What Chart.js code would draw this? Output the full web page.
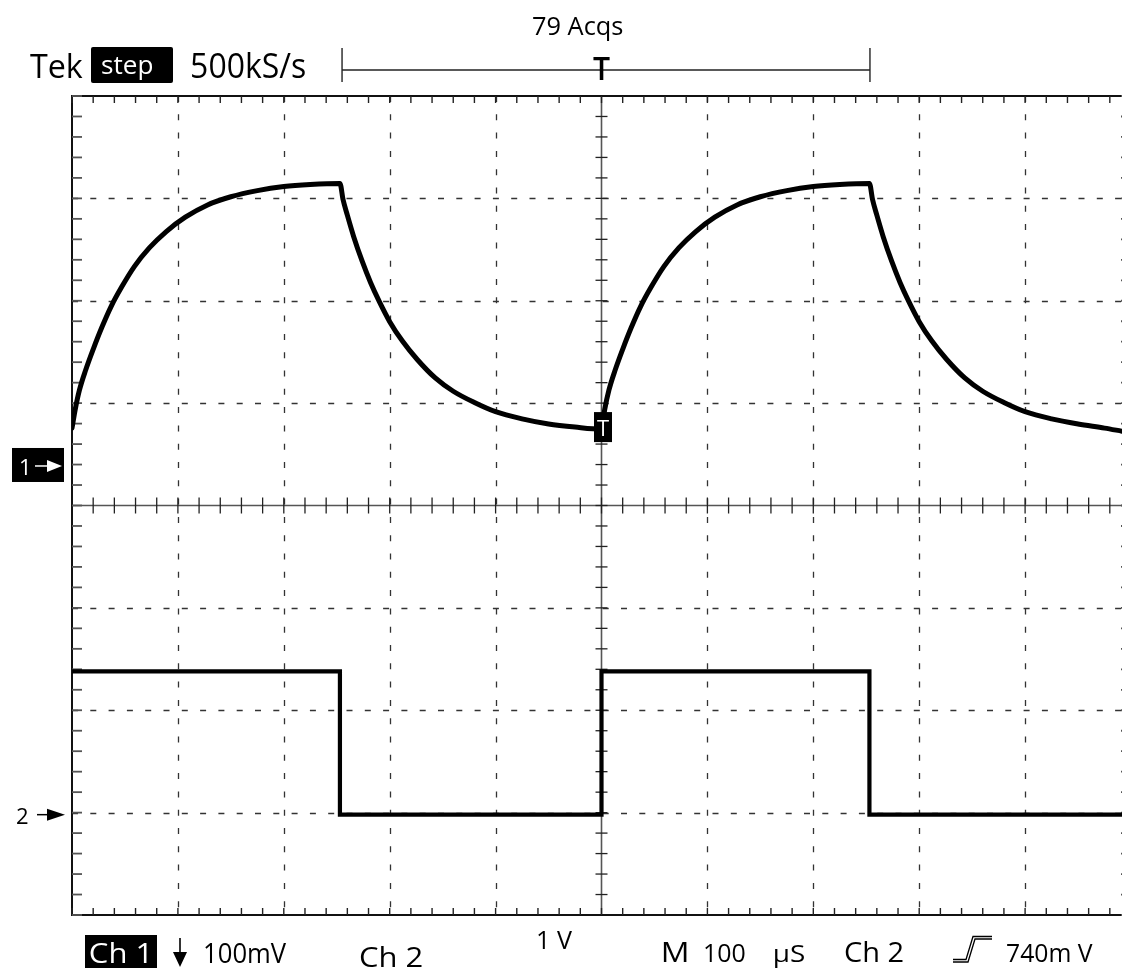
<!DOCTYPE html>
<html><head><meta charset="utf-8">
<script src="https://cdn.jsdelivr.net/npm/chart.js@4/dist/chart.umd.min.js"></script>
<style>html,body{margin:0;padding:0;background:#fff;}#wrap{width:1122px;height:968px;position:relative;}</style>
</head><body><div id="wrap"><canvas id="c" width="1122" height="968"></canvas></div>
<script>
// ---- Data (time in µs relative to trigger; Ch1 in mV above its ground; Ch2 in V) ----
const ch1TimeA  = [-500,-497,-493,-487,-480,-472,-463,-453,-441,-427,-411,-393,-372,-350,-325,-300,-275,-247,
                   -244,-240,-234,-226,-218,-210,-200,-188,-174,-157,-140,-120,-100,-75,-50,-25,0];
const ch1ValueA = [37,55,74,94,114,135,156,175,195,213,229,243,255,263,269,273,275,276,
                   260,245,224,200,179,161,141,122,104,86,73,62,53,46,41,38,36];
const ch1TimeB  = [0,3,7,13,20,28,37,47,59,73,89,107,128,150,175,200,225,253,
                   256,260,266,274,282,290,300,312,326,343,360,380,400,425,450,475,491.5];
const ch1ValueB = [36,55,74,94,114,135,156,175,195,213,229,243,255,263,269,273,275,276,
                   260,245,224,200,179,161,141,122,104,86,73,62,53,46,41,37,34];
const ch2Time   = [-500,-247,-247,0,0,253,253,491.5];
const ch2Value  = [1.4,1.4,0,0,1.4,1.4,0,0];
const timeDivs  = [-500,-400,-300,-200,-100,0,100,200,300,400,500];
const vertDivs  = [-4,-3,-2,-1,0,1,2,3,4];
const triggerMarkLevel = 38;   // mV on Ch1 where the T marker sits
const recordBracket = [-245, 253.5]; // µs
const topTexts = {acq:'79 Acqs', tek:'Tek', mode:'step', rate:'500kS/s', trig:'T'};

const ch1Data = ch1TimeA.map((t,i)=>({x:t,y:ch1ValueA[i]})).concat(ch1TimeB.slice(1).map((t,i)=>({x:t,y:ch1ValueB[i+1]})));
const ch2Data = ch2Time.map((t,i)=>({x:t,y:ch2Value[i]}));

const FONT = '"Open Sans"';
function txt(ctx, s, x, y, size, w, color, weight, center){
  ctx.save();
  ctx.font = (weight||400)+' '+size+'px '+FONT;
  ctx.fillStyle = color||'#000';
  ctx.textBaseline='alphabetic'; ctx.textAlign='left';
  const m = ctx.measureText(s);
  const ink = m.actualBoundingBoxLeft + m.actualBoundingBoxRight;
  const sx = w ? w/ink : 1;
  const inkW = ink*sx;
  const left = center ? x - inkW/2 : x;
  ctx.translate(left + m.actualBoundingBoxLeft*sx, y);
  ctx.scale(sx,1);
  ctx.fillText(s,0,0);
  ctx.restore();
}
function line(ctx,x1,y1,x2,y2){ctx.beginPath();ctx.moveTo(x1,y1);ctx.lineTo(x2,y2);ctx.stroke();}

const graticule = {
  id:'graticule',
  beforeDatasetsDraw(chart){
    const ctx=chart.ctx, xs=chart.scales.x, gs=chart.scales.g;
    const top=gs.getPixelForValue(4), bot=gs.getPixelForValue(-4);
    const left=xs.getPixelForValue(-500), right=xs.getPixelForValue(500);
    const cx=xs.getPixelForValue(0), cy=gs.getPixelForValue(0);
    ctx.save();
    ctx.strokeStyle='#333'; ctx.lineWidth=1.3; ctx.setLineDash([6,12.3]);
    timeDivs.forEach(t=>{ if(t===-500||t===0||t===500) return; const x=Math.round(xs.getPixelForValue(t))+0.5; line(ctx,x,top,x,bot);});
    vertDivs.forEach(v=>{ if(Math.abs(v)===4||v===0) return; const y=Math.round(gs.getPixelForValue(v))+0.5; line(ctx,left,y,chart.width,y);});
    ctx.setLineDash([]);
    ctx.strokeStyle='#555'; ctx.lineWidth=1.6;
    line(ctx,left,cy,chart.width,cy);
    line(ctx,cx,top,cx,bot);
    ctx.strokeStyle='#222'; ctx.lineWidth=1.3;
    for(let t=-500;t<=500;t+=20){const x=xs.getPixelForValue(t); line(ctx,x,cy-8,x,cy+8);}
    for(let v=-4;v<=4.001;v+=0.2){const y=gs.getPixelForValue(v); line(ctx,cx-6,y,cx+6,y);}
    ctx.strokeStyle='#111'; ctx.lineWidth=2;
    line(ctx,left,top,chart.width,top);
    line(ctx,left,bot,chart.width,bot);
    line(ctx,left,top-1,left,bot+1);
    ctx.lineWidth=1.4; ctx.strokeStyle='#222';
    for(let t=-500;t<=500;t+=20){const x=xs.getPixelForValue(t); line(ctx,x,top,x,top+7); line(ctx,x,bot,x,bot-7);}
    ctx.strokeStyle='#555'; ctx.lineWidth=1.8;
    for(let v=-4;v<=4.001;v+=0.2){const y=gs.getPixelForValue(v); line(ctx,left,y,left+10,y); line(ctx,right,y,right-10,y);}
    ctx.restore();
  },
  afterDatasetsDraw(chart){
    const ctx=chart.ctx, xs=chart.scales.x, y1=chart.scales.y1, y2=chart.scales.y2;
    ctx.save();
    const g1=y1.getPixelForValue(0), g2=y2.getPixelForValue(0);
    ctx.fillStyle='#000'; ctx.fillRect(12,g1-18,52,34);
    txt(ctx,'1',20,g1+9,22,null,'#fff');
    ctx.strokeStyle='#fff'; ctx.lineWidth=1.5; line(ctx,35,g1,48,g1);
    ctx.fillStyle='#fff'; ctx.beginPath(); ctx.moveTo(47,g1-6); ctx.lineTo(62,g1); ctx.lineTo(47,g1+6); ctx.closePath(); ctx.fill();
    txt(ctx,'2',17,g2+9,22,null,'#000');
    ctx.strokeStyle='#000'; line(ctx,37,g2,48,g2);
    ctx.fillStyle='#000'; ctx.beginPath(); ctx.moveTo(47,g2-6); ctx.lineTo(65,g2); ctx.lineTo(47,g2+6); ctx.closePath(); ctx.fill();
    const tx=xs.getPixelForValue(0)+1.5, ty=y1.getPixelForValue(triggerMarkLevel);
    ctx.fillStyle='#000'; ctx.fillRect(tx-9,ty-15,18,30);
    txt(ctx,'T',tx,ty+9,22,null,'#fff',400,true);
    ctx.restore();
  },
  afterDraw(chart){
    const ctx=chart.ctx, xs=chart.scales.x;
    ctx.save();
    txt(ctx,topTexts.acq,533,35,26,90);
    txt(ctx,topTexts.tek,30,78,32,53);
    ctx.fillStyle='#000';
    ctx.beginPath(); ctx.roundRect(91,47,82,36,2); ctx.fill();
    txt(ctx,topTexts.mode,102,74,25,50,'#fff');
    txt(ctx,topTexts.rate,192,78,34,113);
    const b1=xs.getPixelForValue(recordBracket[0]), b2=xs.getPixelForValue(recordBracket[1]);
    ctx.strokeStyle='#222'; ctx.lineWidth=1.4;
    line(ctx,b1,70,b2,70); line(ctx,b1,48,b1,82); line(ctx,b2,48,b2,82);
    txt(ctx,topTexts.trig,xs.getPixelForValue(0),80,32,17,'#000',600,true);
    ctx.fillStyle='#000'; ctx.fillRect(85,935,72,33);
    txt(ctx,'Ch 1',90,963,27,57,'#fff');
    ctx.strokeStyle='#000'; ctx.lineWidth=1.6; line(ctx,180,938,180,955);
    ctx.beginPath(); ctx.moveTo(173,952); ctx.lineTo(187,952); ctx.lineTo(180,967); ctx.closePath(); ctx.fill();
    txt(ctx,'100mV',205,963,27,82);
    txt(ctx,'Ch 2',360,967,28,62);
    txt(ctx,'1 V',538,949,25,34);
    txt(ctx,'M',663,962,28,24);
    txt(ctx,'100',705,962,26,40);
    txt(ctx,'µS',775,962,24,30);
    txt(ctx,'Ch 2',845,962,28,58);
    ctx.lineWidth=1.3; ctx.strokeStyle='#000';
    ctx.beginPath(); ctx.moveTo(953,962); ctx.lineTo(968,962); ctx.lineTo(975,939); ctx.lineTo(992,939); ctx.stroke();
    ctx.beginPath(); ctx.moveTo(953,959.5); ctx.lineTo(966,959.5); ctx.lineTo(973,936.5); ctx.lineTo(992,936.5); ctx.stroke();
    txt(ctx,'740m V',1007,962,26,86);
    ctx.restore();
  }
};

new Chart(document.getElementById('c'),{
  type:'line',
  data:{datasets:[
    {label:'Ch 1',data:ch1Data,yAxisID:'y1',borderColor:'#000',borderWidth:5,pointRadius:0,cubicInterpolationMode:'monotone',borderJoinStyle:'round',borderCapStyle:'round',fill:false},
    {label:'Ch 2',data:ch2Data,yAxisID:'y2',borderColor:'#000',borderWidth:4.2,pointRadius:0,tension:0,borderJoinStyle:'miter',borderCapStyle:'butt',fill:false}
  ]},
  options:{
    responsive:false,animation:false,
    layout:{padding:{left:72,top:96,right:0,bottom:53}},
    plugins:{legend:{display:false},tooltip:{enabled:false},title:{display:false}},
    scales:{
      x:{type:'linear',axis:'x',position:'bottom',min:-500,max:491.5,display:false},
      y1:{type:'linear',axis:'y',position:'left',min:-438.6,max:361.4,display:false},
      y2:{type:'linear',axis:'y',position:'left',min:-0.98,max:7.02,display:false},
      g:{type:'linear',axis:'y',position:'left',min:-4,max:4,display:false}
    }
  },
  plugins:[graticule]
});
</script></body></html>
